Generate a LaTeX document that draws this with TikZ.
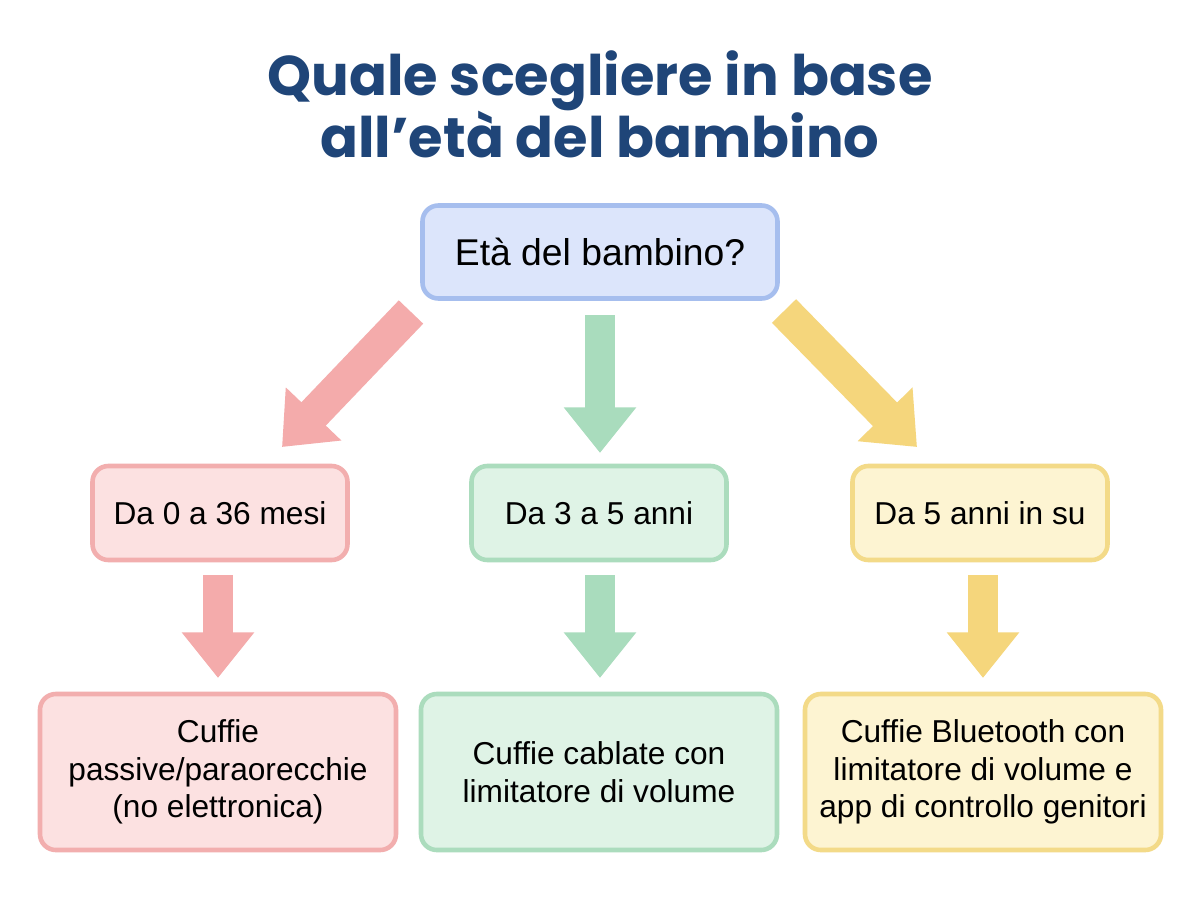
\documentclass[tikz,border=0pt]{standalone}
\usepackage{fontspec}
\setmainfont{Liberation Sans}
\newfontfamily\titlefont{Poppins}
\usetikzlibrary{arrows.meta}
\definecolor{titleblue}{HTML}{1F4578}
\definecolor{bluefill}{HTML}{DCE5FB}
\definecolor{blueline}{HTML}{A6BEEE}
\definecolor{pinkfill}{HTML}{FCE1E1}
\definecolor{pinkline}{HTML}{F2AEAE}
\definecolor{pinkarrow}{HTML}{F4ABAB}
\definecolor{greenfill}{HTML}{DFF3E6}
\definecolor{greenline}{HTML}{ABDCBD}
\definecolor{greenarrow}{HTML}{A9DCBD}
\definecolor{yellowfill}{HTML}{FDF4D2}
\definecolor{yellowline}{HTML}{F3DA88}
\definecolor{yellowarrow}{HTML}{F5D67C}
\newlength{\unitpx}
\setlength{\unitpx}{0.01cm}
\tikzset{
  titletext/.style={font=\titlefont\bfseries\fontsize{15.9}{17.6}\selectfont, text=titleblue, anchor=base, inner sep=0pt},
  box/.style={draw, line width=1.3pt, rounded corners=4.5pt, align=center, inner sep=0pt, text=black},
  topbox/.style={box, draw=blueline, fill=bluefill, minimum width=355\unitpx, minimum height=93\unitpx, font=\fontsize{10.6}{12.5}\selectfont},
  midbox/.style={box, minimum width=255\unitpx, minimum height=94\unitpx, font=\fontsize{9}{10.7}\selectfont},
  lowbox/.style={box, minimum width=356\unitpx, minimum height=156\unitpx, font=\fontsize{9}{10.7}\selectfont},
  pinkbox/.style={draw=pinkline, fill=pinkfill},
  greenbox/.style={draw=greenline, fill=greenfill},
  yellowbox/.style={draw=yellowline, fill=yellowfill},
  blockarrow/.style={line width=8.3pt, -{Triangle[width=19.8pt,length=13pt]}},
  diagarrow/.style={line width=9.6pt, -{Triangle[width=21pt,length=13pt]}},
}
\begin{document}
\begin{tikzpicture}[x=0.01cm, y=-0.01cm]
\useasboundingbox[fill=white] (0,0) rectangle (1200,900);
\node[titletext] (title1) at (600,95) {Quale scegliere in base};
\node[titletext] (title2) at (600,157) {all’età del bambino};
\node[topbox] (q) at (600,252) {Età del bambino?};
\node[midbox, pinkbox] (m1) at (220,513) {Da 0 a 36 mesi};
\node[midbox, greenbox] (m2) at (599,513) {Da 3 a 5 anni};
\node[midbox, yellowbox] (m3) at (980,513) {Da 5 anni in su};
\node[lowbox, pinkbox] (b1) at (218,772) {Cuffie\\passive/paraorecchie\\(no elettronica)};
\node[lowbox, greenbox] (b2) at (599,772) {Cuffie cablate con\\limitatore di volume};
\node[lowbox, yellowbox] (b3) at (983,772) {Cuffie Bluetooth con\\limitatore di volume e\\app di controllo genitori};
\coordinate (a1s) at (411,312); \coordinate (a1e) at (282,447);
\coordinate (a2s) at (600,315); \coordinate (a2e) at (600,453);
\coordinate (a3s) at (784,311); \coordinate (a3e) at (917,447);
\coordinate (l1s) at (218,575); \coordinate (l1e) at (218,678);
\coordinate (l2s) at (600,575); \coordinate (l2e) at (600,678);
\coordinate (l3s) at (983,575); \coordinate (l3e) at (983,678);
\draw[diagarrow, draw=pinkarrow, fill=pinkarrow] (a1s) -- (a1e);
\draw[blockarrow, draw=greenarrow, fill=greenarrow] (a2s) -- (a2e);
\draw[diagarrow, draw=yellowarrow, fill=yellowarrow] (a3s) -- (a3e);
\draw[blockarrow, draw=pinkarrow, fill=pinkarrow] (l1s) -- (l1e);
\draw[blockarrow, draw=greenarrow, fill=greenarrow] (l2s) -- (l2e);
\draw[blockarrow, draw=yellowarrow, fill=yellowarrow] (l3s) -- (l3e);
\end{tikzpicture}
\end{document}
